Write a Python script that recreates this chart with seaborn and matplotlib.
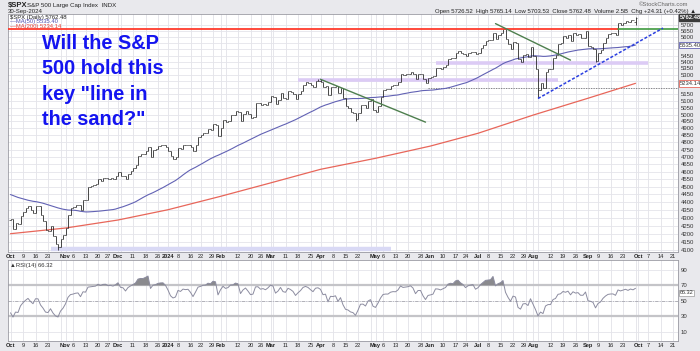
import numpy as np
import pandas as pd
import matplotlib
matplotlib.use("Agg")
import matplotlib.pyplot as plt
import matplotlib.transforms as mtransforms
import seaborn as sns

# ------------------------------------------------------------------
# Data: S&P 500 daily closes
# ------------------------------------------------------------------
# warm-up closes Jul 21 - Sep 29 2023 (used for MA50 / RSI only, not drawn)
pre_closes = [
    4536.34, 4554.64, 4567.46, 4566.75, 4537.41, 4582.23, 4588.96,
    4576.73, 4513.39, 4501.89, 4478.03, 4518.44, 4499.38, 4467.71, 4468.83, 4464.05,
    4489.72, 4437.86, 4404.33, 4370.36, 4369.71, 4399.77, 4387.55, 4436.01, 4376.31,
    4405.71, 4433.31, 4497.63, 4514.87, 4507.66,
    4515.77, 4496.83, 4465.48, 4451.14, 4457.49, 4487.46, 4461.90, 4467.44, 4505.10,
    4450.32, 4453.53, 4443.95, 4402.20, 4330.00, 4320.06, 4337.44, 4273.53, 4274.51,
    4299.70, 4288.05,
]

# Oct 2 2023 - Sep 30 2024
closes = [
    # Oct
    4288.39, 4229.45, 4263.75, 4258.19, 4308.50, 4335.66, 4358.24, 4376.95, 4349.61, 4327.78,
    4373.63, 4373.20, 4314.60, 4278.00, 4224.16, 4217.04, 4247.68, 4186.77, 4137.23, 4117.37,
    4166.82, 4193.80,
    # Nov
    4237.86, 4317.78, 4358.34, 4365.98, 4378.38, 4382.78, 4347.35, 4415.24, 4411.55, 4495.70,
    4502.88, 4508.24, 4514.02, 4547.38, 4538.19, 4556.62, 4559.34, 4550.43, 4554.89, 4550.58,
    4567.80,
    # Dec
    4594.63, 4569.78, 4567.18, 4549.34, 4585.59, 4604.37, 4622.44, 4643.70, 4707.09, 4719.55,
    4719.19, 4740.56, 4768.37, 4698.35, 4746.75, 4754.63, 4774.75, 4781.58, 4783.35, 4769.83,
    # Jan
    4742.83, 4704.81, 4688.68, 4697.24, 4763.54, 4756.50, 4783.45, 4780.24, 4783.83, 4765.98,
    4739.21, 4780.94, 4839.81, 4850.43, 4864.60, 4868.55, 4894.16, 4890.97, 4927.93, 4924.97,
    4845.65,
    # Feb
    4906.19, 4958.61, 4942.81, 4954.23, 4995.06, 4997.91, 5026.61, 5021.84, 4953.17, 5000.62,
    5029.73, 5005.57, 4975.51, 4981.80, 5087.03, 5088.80, 5069.53, 5078.18, 5069.76, 5096.27,
    # Mar
    5137.08, 5130.95, 5078.65, 5104.76, 5157.36, 5123.69, 5117.94, 5175.27, 5165.31, 5150.48,
    5117.09, 5149.42, 5178.51, 5224.62, 5241.53, 5234.18, 5218.19, 5203.58, 5248.49, 5254.35,
    # Apr
    5243.77, 5205.81, 5211.49, 5147.21, 5204.34, 5202.39, 5209.91, 5160.64, 5199.06, 5123.41,
    5061.82, 5051.41, 5022.21, 5011.12, 4967.23, 5010.60, 5070.55, 5071.63, 5048.42, 5099.96,
    5116.17, 5035.69,
    # May
    5018.39, 5064.20, 5127.79, 5180.74, 5187.70, 5187.67, 5214.08, 5222.68, 5221.42, 5246.68,
    5308.15, 5297.10, 5303.27, 5308.13, 5321.41, 5307.01, 5267.84, 5304.72, 5306.04, 5266.95,
    5235.48, 5277.51,
    # Jun
    5283.40, 5291.34, 5354.03, 5352.96, 5346.99, 5360.79, 5375.32, 5421.03, 5433.74, 5431.60,
    5473.23, 5487.03, 5473.17, 5464.62, 5447.87, 5469.30, 5477.90, 5482.87, 5460.48,
    # Jul
    5475.09, 5509.01, 5537.02, 5567.19, 5572.85, 5576.98, 5633.91, 5584.54, 5615.35, 5631.22,
    5667.20, 5588.27, 5544.59, 5505.00, 5564.41, 5555.74, 5427.13, 5399.22, 5459.10, 5463.54,
    5436.44, 5522.30,
    # Aug
    5446.68, 5346.56, 5186.33, 5240.03, 5199.50, 5319.31, 5344.16, 5344.39, 5434.43, 5455.21,
    5543.22, 5554.25, 5608.25, 5597.12, 5620.85, 5570.64, 5634.61, 5616.84, 5625.80, 5592.18,
    5591.96, 5648.40,
    # Sep
    5528.93, 5520.07, 5503.41, 5408.42, 5471.05, 5495.52, 5554.13, 5595.76, 5626.02, 5633.09,
    5634.58, 5618.26, 5713.64, 5702.55, 5718.57, 5732.93, 5722.26, 5745.37, 5738.17, 5762.48,
]

# a few known intraday extremes / opens
key_highs = {"2024-03-28": 5264.85, "2024-04-01": 5264.85, "2024-07-16": 5669.67,
             "2024-09-30": 5765.14}
key_lows = {"2023-10-27": 4103.78, "2024-04-19": 4953.56, "2024-08-05": 5119.26,
            "2024-09-06": 5402.62, "2024-09-30": 5703.53}
key_opens = {"2024-09-30": 5726.52}

# MA(200)
ma200_dates = ["2023-10-02", "2023-11-01", "2023-12-01", "2024-01-02", "2024-02-01",
               "2024-03-01", "2024-04-01", "2024-05-01", "2024-06-03", "2024-07-01",
               "2024-08-01", "2024-09-03", "2024-09-30"]
ma200_vals = [4200, 4235, 4285, 4350, 4436, 4524, 4615, 4690, 4775, 4865, 4996, 5121, 5234]

holidays = ["2023-11-23", "2023-12-25", "2024-01-01", "2024-01-15", "2024-02-19",
            "2024-03-29", "2024-05-27", "2024-06-19", "2024-07-04", "2024-09-02"]

tick_dates = ["2023-10-02", "2023-10-09", "2023-10-16", "2023-10-23", "2023-11-01",
              "2023-11-06", "2023-11-13", "2023-11-20", "2023-11-27", "2023-12-01",
              "2023-12-11", "2023-12-18", "2023-12-26", "2024-01-02", "2024-01-08",
              "2024-01-16", "2024-01-22", "2024-01-29", "2024-02-01", "2024-02-12",
              "2024-02-20", "2024-02-26", "2024-03-01", "2024-03-11", "2024-03-18",
              "2024-03-25", "2024-04-01", "2024-04-08", "2024-04-15", "2024-04-22",
              "2024-05-01", "2024-05-06", "2024-05-13", "2024-05-20", "2024-05-28",
              "2024-06-03", "2024-06-10", "2024-06-17", "2024-06-24", "2024-07-01",
              "2024-07-08", "2024-07-15", "2024-07-22", "2024-07-29", "2024-08-01",
              "2024-08-12", "2024-08-19", "2024-08-26", "2024-09-03", "2024-09-09",
              "2024-09-16", "2024-09-23", "2024-10-01", "2024-10-07", "2024-10-14",
              "2024-10-21"]
tick_labels = ["Oct", "9", "16", "23", "Nov", "6", "13", "20", "27", "Dec", "11", "18", "26",
               "2024", "8", "16", "22", "29", "Feb", "12", "20", "26", "Mar", "11", "18", "25",
               "Apr", "8", "15", "22", "May", "6", "13", "20", "28", "Jun", "10", "17", "24",
               "Jul", "8", "15", "22", "29", "Aug", "12", "19", "26", "Sep", "9", "16", "23",
               "Oct", "7", "14", "21"]
bold_labels = ["Oct", "Nov", "Dec", "2024", "Feb", "Mar", "Apr", "May", "Jun", "Jul",
               "Aug", "Sep"]

price_ticks = list(range(4100, 5750, 50))
hidden_price_labels = [5550, 5500, 5250, 5200]   # covered by the MA value boxes
rsi_ticks = [10, 30, 50, 70, 90]

resistance = 5669
# annotation lines: (start date, start price, end date, end price)
down_trend_1 = ("2024-04-01", 5265, "2024-05-30", 4945)
down_trend_2 = ("2024-07-11", 5712, "2024-08-22", 5415)
up_trend = ("2024-08-05", 5119, "2024-10-15", 5675)
bands = [("2024-03-18", "2024-08-15", 5260), ("2024-06-05", "2024-10-07", 5395)]
low_band = ("2023-10-24", "2024-05-09", 4110)
dotted_level = ("2024-05-31", 5196)

# ------------------------------------------------------------------
# Calendar and indicators
# ------------------------------------------------------------------
cal = pd.bdate_range("2023-10-02", "2024-10-31")
cal = cal[~cal.isin(pd.to_datetime(holidays))]
pos = {d.strftime("%Y-%m-%d"): i for i, d in enumerate(cal)}

n = len(closes)
idx = np.arange(n)
all_c = pd.Series(pre_closes + closes, dtype=float)
ma50 = all_c.rolling(50).mean().iloc[len(pre_closes):].values
delta = all_c.diff()
up = delta.clip(lower=0).ewm(alpha=1 / 14, adjust=False).mean()
dn = (-delta.clip(upper=0)).ewm(alpha=1 / 14, adjust=False).mean()
rsi = (100 - 100 / (1 + up / dn)).iloc[len(pre_closes):].values

opens = np.array([pre_closes[-1]] + closes[:-1])
cl = np.array(closes)
for d, v in key_opens.items():
    opens[pos[d]] = v
highs = np.maximum(opens, cl)
lows = np.minimum(opens, cl)
for d, v in key_highs.items():
    highs[pos[d]] = max(highs[pos[d]], v)
for d, v in key_lows.items():
    lows[pos[d]] = min(lows[pos[d]], v)

# ------------------------------------------------------------------
# Figure
# ------------------------------------------------------------------
sns.set_theme(style="white")
plt.rcParams["font.family"] = ["Liberation Sans", "DejaVu Sans"]

W, H = 700, 351
fig = plt.figure(figsize=(7, 3.51), dpi=100)
fig.patch.set_facecolor("#e9e9ed")


def px(x, y):
    return x / W, 1 - y / H


ax = fig.add_axes([8 / W, 1 - 252 / H, 670 / W, 238 / H])
ax2 = fig.add_axes([8 / W, 1 - 341 / H, 670 / W, 81 / H])
xlim = (-1, 267)

week_first = pd.Series(cal).groupby([cal.isocalendar().year.values,
                                     cal.isocalendar().week.values]).first()
grid_x = sorted(set([pos[d.strftime("%Y-%m-%d")] for d in week_first] +
                    [pos[d] for d in tick_dates]))
tick_x = [pos[d] for d in tick_dates]
nudge_left = mtransforms.ScaledTranslation(-1.5 / 100, 0, fig.dpi_scale_trans)

for a in (ax, ax2):
    a.set_facecolor("white")
    for gx in grid_x:
        a.axvline(gx, color="#e2e2e8", lw=0.6, zorder=0)
    a.set_xlim(*xlim)
    a.set_xticks(tick_x)
    a.set_xticklabels(tick_labels)
    a.tick_params(axis="x", length=0, pad=1.2, labelsize=4.1, colors="#222")
    for t, d in zip(a.get_xticklabels(), tick_dates):
        if t.get_text() in bold_labels:
            t.set_fontweight("bold")
        if t.get_text() == "29":
            t.set_transform(t.get_transform() + nudge_left)
    a.yaxis.tick_right()
    a.tick_params(axis="y", length=0, pad=2, labelsize=4.3, colors="#333")
    for s in a.spines.values():
        s.set_color("#9a9aa2")
        s.set_linewidth(0.6)

# ---------------- price panel ----------------
ax.set_yscale("log")
ax.set_ylim(4089, 5793)
for p in price_ticks:
    ax.axhline(p, color="#e4e4ea", lw=0.6, zorder=0)
ax.yaxis.set_major_locator(matplotlib.ticker.FixedLocator(price_ticks))
ax.yaxis.set_major_formatter(matplotlib.ticker.FixedFormatter(
    ["" if p in hidden_price_labels else str(p) for p in price_ticks]))
ax.yaxis.set_minor_locator(matplotlib.ticker.NullLocator())

# support bands
lb = low_band
ax.plot([pos[lb[0]], pos[lb[1]]], [lb[2], lb[2]], color="#d9d9f5", lw=3.2,
        solid_capstyle="butt", zorder=1)
for b0, b1, lvl in bands:
    ax.plot([pos[b0], pos[b1]], [lvl, lvl], color="#dccbf5", lw=2.6,
            solid_capstyle="butt", zorder=1)
ax.plot([pos[dotted_level[0]], xlim[1]], [dotted_level[1]] * 2, color="#777",
        lw=0.6, ls=(0, (1.5, 1.5)), zorder=1)

# moving averages
sns.lineplot(x=idx, y=ma50, ax=ax, color="#6262b4", lw=0.8, zorder=2)
sns.lineplot(x=[pos[d] for d in ma200_dates], y=ma200_vals, ax=ax, color="#e8665a",
             lw=0.9, zorder=2)

# OHLC bars
ax.vlines(idx, lows, highs, color="#2a2a2a", lw=0.6, zorder=3)
ax.hlines(opens, idx - 0.5, idx, color="#2a2a2a", lw=0.5, zorder=3)
ax.hlines(cl, idx, idx + 0.5, color="#2a2a2a", lw=0.5, zorder=3)

# resistance: red until the breakout, green afterwards
brk = pos["2024-09-19"]
ax.plot([xlim[0], brk], [resistance] * 2, color="#ff3a2c", lw=1.3, zorder=4)
ax.plot([brk, xlim[1]], [resistance] * 2, color="#3f9a3f", lw=1.2, zorder=4)

for tl in (down_trend_1, down_trend_2):
    ax.plot([pos[tl[0]], pos[tl[2]]], [tl[1], tl[3]], color="#4e7f4e", lw=1.0, zorder=4)
ax.plot([pos[up_trend[0]], pos[up_trend[2]]], [up_trend[1], up_trend[3]],
        color="#2b3fe0", lw=1.1, ls=(0, (2, 1.2)), zorder=4)

# right-axis value boxes
ytr = ax.get_yaxis_transform()
ax.text(1.003, closes[-1], "5762.48", transform=ytr, fontsize=4.2, color="white",
        va="center", ha="left", fontweight="bold", zorder=6,
        bbox=dict(boxstyle="square,pad=0.15", fc="#3a3a3a", ec="#3a3a3a"))
ax.text(1.003, ma50[-1], "5535.40", transform=ytr, fontsize=4.2, color="#333",
        va="center", ha="left", zorder=6,
        bbox=dict(boxstyle="square,pad=0.15", fc="white", ec="#6262b4", lw=0.6))
ax.text(1.003, ma200_vals[-1], "5234.14", transform=ytr, fontsize=4.2, color="#333",
        va="center", ha="left", zorder=6,
        bbox=dict(boxstyle="square,pad=0.15", fc="white", ec="#e8665a", lw=0.6))

# legend text
fig.text(*px(10, 17.5), r"\$SPX (Daily) 5762.48", fontsize=4.2, color="#222", va="center")
fig.text(*px(10, 22), "\u2014MA(50) 5535.40", fontsize=4.2, color="#5050b0", va="center")
fig.text(*px(10, 26.5), "\u2014MA(200) 5234.14", fontsize=4.2, color="#e0443a", va="center")

# big annotation
for k, line in enumerate(["Will the S&P", "500 hold this", "key \"line in", "the sand?\""]):
    fig.text(*px(41.5, 49 + 25.4 * k), line, fontsize=14.3, fontweight="bold",
             color="#1414f0", va="baseline", ha="left")

# ---------------- RSI panel ----------------
ax2.set_ylim(-2, 103)
ax2.set_yticks(rsi_ticks)
ax2.set_yticklabels([str(v) for v in rsi_ticks])
for v in rsi_ticks:
    ax2.axhline(v, color="#e4e4ea", lw=0.6, zorder=0)
ax2.axhline(70, color="#c4c4c8", lw=1.6, zorder=1)
ax2.axhline(30, color="#c4c4c8", lw=1.6, zorder=1)
ax2.axhline(50, color="#a8a8b0", lw=0.6, ls=(0, (4, 1.5, 1, 1.5)), zorder=1)
ax2.fill_between(idx, rsi, 70, where=rsi > 70, interpolate=True, color="#8a8a8e",
                 lw=0, zorder=2)
ax2.fill_between(idx, rsi, 30, where=rsi < 30, interpolate=True, color="#8a8a8e",
                 lw=0, zorder=2)
sns.lineplot(x=idx, y=rsi, ax=ax2, color="#8c8ca0", lw=0.7, zorder=3)
ax2.set_xlabel("")
ax2.set_ylabel("")
ax.set_xlabel("")
ax.set_ylabel("")
ax2.text(1.003, 60.5, "66.32", transform=ax2.get_yaxis_transform(), fontsize=4.0,
         color="#333", va="center", ha="left", zorder=6,
         bbox=dict(boxstyle="square,pad=0.1", fc="white", ec="#999", lw=0.5))
fig.text(*px(10, 265), "\u25b2RSI(14) 66.32", fontsize=4.2, color="#333", va="center")

# ---------------- header ----------------
fig.text(*px(8, 5.5), r"\$SPX", fontsize=5.5, fontweight="bold", color="#222", va="center")
fig.text(*px(27, 5.5), "S&P 500 Large Cap Index  INDX", fontsize=4.4, color="#222",
         va="center")
fig.text(*px(8, 11), "30-Sep-2024", fontsize=4.3, color="#222", va="center")
fig.text(*px(688, 4.5), "\u00a9StockCharts.com", fontsize=4.2, color="#666", va="center",
         ha="right")
fig.text(*px(696, 11),
         "Open 5726.52  High 5765.14  Low 5703.53  Close 5762.48  Volume 2.5B  "
         "Chg +24.31 (+0.42%) \u25b2", fontsize=4.3, color="#222", va="center", ha="right")

fig.savefig("out.png", dpi=100, facecolor=fig.get_facecolor())
